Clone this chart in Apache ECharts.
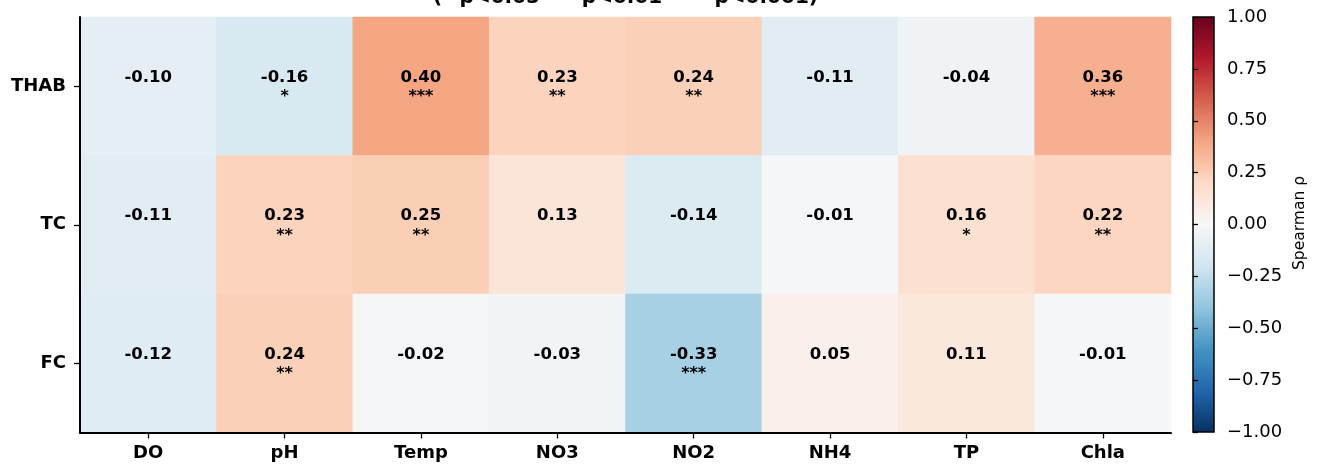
<!DOCTYPE html>
<html>
<head>
<meta charset="utf-8">
<script src="https://cdn.jsdelivr.net/npm/echarts@6/dist/echarts.min.js"></script>
<style>
  html, body { margin: 0; padding: 0; background: #fff; }
  #chart { width: 1320px; height: 465px; }
</style>
</head>
<body>
<div id="chart"></div>
<script>
// Water-quality drivers (columns) vs. bacterial indicators (rows)
const colLabels = ['DO', 'pH', 'Temp', 'NO3', 'NO2', 'NH4', 'TP', 'Chla'];
const rowLabels = ['THAB', 'TC', 'FC'];

// Spearman rho per indicator
const thabRho = [-0.10, -0.16, 0.40, 0.23, 0.24, -0.11, -0.04, 0.36];
const tcRho   = [-0.11, 0.23, 0.25, 0.13, -0.14, -0.01, 0.16, 0.22];
const fcRho   = [-0.12, 0.24, -0.02, -0.03, -0.33, 0.05, 0.11, -0.01];

// Significance stars per indicator
const thabSig = ['', '*', '***', '**', '**', '', '', '***'];
const tcSig   = ['', '**', '**', '', '', '', '*', '**'];
const fcSig   = ['', '**', '', '', '***', '', '', ''];

// Colour bar ticks
const cbarTicks = [-1.00, -0.75, -0.50, -0.25, 0.00, 0.25, 0.50, 0.75, 1.00];

// RdBu reversed, from -1 to +1
const rdbuR = ['#053061', '#2166ac', '#4393c3', '#92c5de', '#d1e5f0', '#f7f7f7',
               '#fddbc7', '#f4a582', '#d6604d', '#b2182b', '#67001f'];

const rhoRows = [thabRho, tcRho, fcRho];
const sigRows = [thabSig, tcSig, fcSig];
const cells = [];
rhoRows.forEach((row, r) => {
  row.forEach((v, c) => {
    cells.push([c, r, v, sigRows[r][c]]);
  });
});

const FONT = 'DejaVu Sans';
const chart = echarts.init(document.getElementById('chart'), null, { renderer: 'canvas' });

chart.setOption({
  backgroundColor: '#ffffff',
  animation: false,
  textStyle: { fontFamily: FONT },
  graphic: [
    {
      type: 'text',
      x: 625.5, y: -2,
      style: {
        text: '(* p<0.05  ** p<0.01  *** p<0.001)',
        align: 'center', verticalAlign: 'middle',
        font: 'bold 20px "DejaVu Sans"', fill: '#000'
      }
    },
    {
      type: 'text',
      x: 1300, y: 223,
      rotation: Math.PI / 2,
      style: {
        text: 'Spearman \u03c1',
        align: 'center', verticalAlign: 'middle',
        font: '15.5px "DejaVu Sans"', fill: '#000'
      }
    }
  ],
  grid: [
    { left: 80, top: 17, width: 1091, height: 415.5, containLabel: false },
    { left: 1193, top: 17, width: 21, height: 415, containLabel: false }
  ],
  xAxis: [
    {
      type: 'category', gridIndex: 0, data: colLabels, z: 10,
      axisLine: { show: true, lineStyle: { color: '#000', width: 2 } },
      axisTick: { show: true, alignWithLabel: true, length: 6, lineStyle: { color: '#000', width: 1.3 } },
      axisLabel: { margin: 12, color: '#000', fontWeight: 'bold', fontSize: 18, fontFamily: FONT },
      splitLine: { show: false }
    },
    {
      type: 'value', gridIndex: 1, min: 0, max: 1, show: false
    }
  ],
  yAxis: [
    {
      type: 'category', gridIndex: 0, data: rowLabels, inverse: true, z: 10,
      axisLine: { show: true, lineStyle: { color: '#000', width: 2 } },
      axisTick: { show: true, alignWithLabel: true, length: 6, lineStyle: { color: '#000', width: 1.3 } },
      axisLabel: { margin: 14, color: '#000', fontWeight: 'bold', fontSize: 18, fontFamily: FONT },
      splitLine: { show: false }
    },
    {
      type: 'value', gridIndex: 1, min: -1, max: 1, interval: 0.25, position: 'right', z: 10,
      axisLine: { show: false },
      axisTick: { show: true, length: 5, lineStyle: { color: '#000', width: 1.3 } },
      axisLabel: {
        margin: 13, color: '#000', fontSize: 18, fontFamily: FONT,
        formatter: v => {
          const t = cbarTicks.find(x => Math.abs(x - v) < 1e-9);
          const val = t === undefined ? v : t;
          return val.toFixed(2).replace('-', '\u2212');
        }
      },
      splitLine: { show: false }
    }
  ],
  visualMap: {
    show: false, type: 'continuous', seriesIndex: 0, dimension: 2,
    min: -1, max: 1, inRange: { color: rdbuR }
  },
  series: [
    {
      type: 'heatmap', xAxisIndex: 0, yAxisIndex: 0,
      data: cells,
      itemStyle: { borderWidth: 0 },
      emphasis: { disabled: true },
      label: {
        show: true,
        formatter: p => '{v|' + p.data[2].toFixed(2) + '}\n{s|' + (p.data[3] || ' ') + '}',
        rich: {
          v: { fontFamily: FONT, fontWeight: 'bold', fontSize: 16.5, color: '#000', lineHeight: 22, align: 'center' },
          s: { fontFamily: FONT, fontWeight: 'bold', fontSize: 16, color: '#000', lineHeight: 18, align: 'center' }
        }
      }
    },
    {
      type: 'custom', xAxisIndex: 1, yAxisIndex: 1,
      data: [[0, 0]],
      silent: true,
      renderItem: (params, api) => {
        const cs = params.coordSys;
        const top = api.coord([0, 1]);
        const bot = api.coord([0, -1]);
        const stops = rdbuR.slice().reverse().map((c, i) => ({ offset: i / (rdbuR.length - 1), color: c }));
        return {
          type: 'rect',
          shape: { x: cs.x, y: top[1], width: cs.width, height: bot[1] - top[1] },
          style: {
            fill: new echarts.graphic.LinearGradient(0, 0, 0, 1, stops),
            stroke: '#000', lineWidth: 1.5
          }
        };
      }
    }
  ]
});
</script>
</body>
</html>
